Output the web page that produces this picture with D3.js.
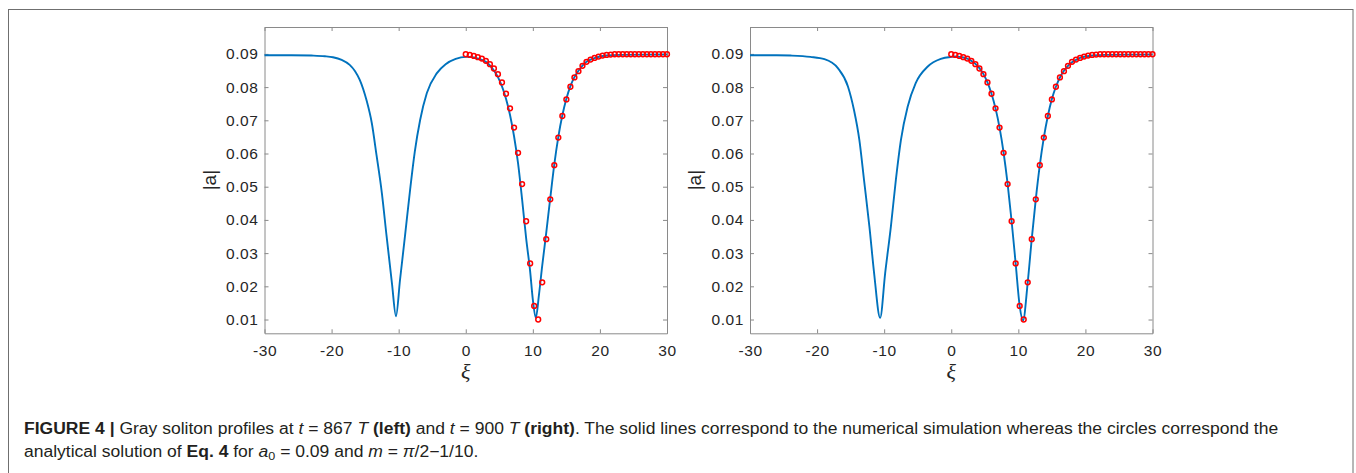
<!DOCTYPE html>
<html>
<head>
<meta charset="utf-8">
<script src="https://cdn.jsdelivr.net/npm/d3@7"></script>
<style>
  html, body { margin: 0; padding: 0; background: #fff; }
  svg { display: block; }
</style>
</head>
<body>
<svg id="fig" width="1356" height="473"></svg>
<script>
// ---- axis ticks ----
const xiTicks = [-30, -20, -10, 0, 10, 20, 30];
const aTicks = [0.01, 0.02, 0.03, 0.04, 0.05, 0.06, 0.07, 0.08, 0.09];

// ---- analytical solution (circles), sampled every 0.6 in xi ----
const analyticXi = d3.range(51).map(i => +(i * 0.6).toFixed(1));
const analyticA = [
  0.0899, 0.0897, 0.0894, 0.0890, 0.0886, 0.0879, 0.0869, 0.0856, 0.0839, 0.0814,
  0.0780, 0.0736, 0.0678, 0.0602, 0.0508, 0.0396, 0.0269, 0.0141, 0.0100, 0.0212,
  0.0342, 0.0462, 0.0565, 0.0648, 0.0713, 0.0763, 0.0801, 0.0829, 0.0848, 0.0864,
  0.0876, 0.0883, 0.0888, 0.0892, 0.0895, 0.0897, 0.0898, 0.0899, 0.0899, 0.0899,
  0.0899, 0.0899, 0.0899, 0.0899, 0.0899, 0.0899, 0.0899, 0.0899, 0.0899, 0.0899,
  0.0899
];

// ---- numerical simulation, t = 867 T ----
const numXi867 = [
  -30, -26, -23, -21, -19.8, -18.5, -17.3, -16.5, -15.8, -14.8, -14.0, -13.3, -12.5, -11.8, -11.0, -10.4,
  -9.8, -9.06, -8.3, -7.6, -6.8, -5.8, -4.3, -3.0, -1.5, 0, 0.8, 1.5, 2.4, 3.0, 3.6, 4.2, 4.8, 5.4,
  6.0, 6.6, 7.2, 7.8, 8.4, 9.0, 9.6, 10.0, 10.45, 10.9, 11.4, 12.0, 12.6, 13.2, 13.8, 14.4, 15.0,
  15.6, 16.2, 16.8, 17.4, 18.0, 19.0, 20.0, 21.0, 23.0, 30
];
const numA867 = [
  0.0896, 0.0896, 0.0895, 0.0893, 0.0890, 0.0882, 0.0867, 0.0848, 0.0822, 0.0761, 0.0691, 0.0595, 0.0480, 0.0351, 0.0209, 0.0110,
  0.0219, 0.0351, 0.0490, 0.0605, 0.0701, 0.0782, 0.0842, 0.0869, 0.0885, 0.0891, 0.0891, 0.0888, 0.0882, 0.0876, 0.0865, 0.0850, 0.0830, 0.0802,
  0.0765, 0.0716, 0.0652, 0.0570, 0.0462, 0.0345, 0.0245, 0.0160, 0.0105, 0.0172, 0.0262, 0.0362, 0.0466, 0.0567, 0.0650, 0.0715, 0.0765,
  0.0803, 0.0830, 0.0849, 0.0865, 0.0876, 0.0886, 0.0892, 0.0895, 0.0897, 0.0898
];

// ---- numerical simulation, t = 900 T ----
const numXi900 = [
  -30, -26, -23.9, -21, -18.9, -16.9, -15.4, -14.5, -13.7, -13.0, -12.2, -11.5, -10.6,
  -9.85, -9.0, -8.26, -7.5, -6.5, -5.3, -3.5, -1.56, 0, 0.6, 1.2, 1.8, 2.4, 3.0, 3.6, 4.2, 4.8, 5.4,
  6.0, 6.6, 7.2, 7.8, 8.4, 9.0, 9.6, 10.2, 10.7, 11.4, 12.0, 12.6, 13.2, 13.8, 14.4, 15.0,
  15.6, 16.2, 16.8, 17.4, 18.0, 18.6, 19.2, 20.0, 21.0, 23.0, 30
];
const numA900 = [
  0.0896, 0.0896, 0.0895, 0.0891, 0.0884, 0.0857, 0.0802, 0.0731, 0.0641, 0.0520, 0.0380, 0.0240, 0.0105,
  0.0240, 0.0380, 0.0520, 0.0641, 0.0741, 0.0812, 0.0862, 0.0885, 0.0891, 0.0892, 0.0891, 0.0889, 0.0886, 0.0879, 0.0870, 0.0857, 0.0839, 0.0814,
  0.0780, 0.0736, 0.0678, 0.0603, 0.0509, 0.0396, 0.0269, 0.0141, 0.0097, 0.0212, 0.0343, 0.0462, 0.0565, 0.0648, 0.0713, 0.0764,
  0.0801, 0.0829, 0.0849, 0.0864, 0.0875, 0.0882, 0.0888, 0.0892, 0.0895, 0.0897, 0.0898
];

// ---- layout ----
const svg = d3.select("#fig");
const TICK_FONT = "'Liberation Sans', Arial, Helvetica, sans-serif";
const axisGray = "#8a8a8a";
const textCol = "#262626";
const blue = "#0072BD";

// outer figure frame
svg.append("rect")
  .attr("x", 8.5).attr("y", 9.5)
  .attr("width", 1344.5).attr("height", 520)
  .attr("fill", "none").attr("stroke", "#6f6f6f").attr("stroke-width", 1);

const plotTop = 27, plotBottom = 333.3, plotW = 402.5;
const y = d3.scaleLinear().domain([0.00585, 0.0981]).range([plotBottom, plotTop]);

const panels = [
  { left: 264.5, xi: numXi867, a: numA867 },
  { left: 750,   xi: numXi900, a: numA900 }
];

panels.forEach(p => {
  const x = d3.scaleLinear().domain([-30, 30]).range([p.left, p.left + plotW]);
  const g = svg.append("g");

  // clip to plot box
  const cid = "clip" + Math.round(p.left);
  svg.append("clipPath").attr("id", cid).append("rect")
    .attr("x", p.left - 4).attr("y", plotTop - 4)
    .attr("width", plotW + 8).attr("height", plotBottom - plotTop + 8);

  // box axes with inward ticks
  const styleAxis = sel => {
    sel.select(".domain").attr("stroke", axisGray).attr("stroke-width", 1);
    sel.selectAll(".tick line").attr("stroke", axisGray).attr("stroke-width", 1);
    sel.selectAll(".tick text").attr("fill", textCol)
      .style("font-family", TICK_FONT).style("font-size", "15.5px")
      .style("letter-spacing", "0.6px");
  };

  g.append("g").attr("transform", `translate(0,${plotBottom})`)
    .call(d3.axisBottom(x).tickValues(xiTicks).tickSizeInner(-4).tickSizeOuter(0).tickPadding(11.5)
      .tickFormat(d => String(d)))
    .call(styleAxis);
  g.append("g").attr("transform", `translate(0,${plotTop})`)
    .call(d3.axisTop(x).tickValues(xiTicks).tickSizeInner(-4).tickSizeOuter(0).tickFormat(""))
    .call(styleAxis);
  g.append("g").attr("transform", `translate(${p.left},0)`)
    .call(d3.axisLeft(y).tickValues(aTicks).tickSizeInner(-4).tickSizeOuter(0).tickPadding(6)
      .tickFormat(d3.format(".2f")))
    .call(styleAxis);
  g.append("g").attr("transform", `translate(${p.left + plotW},0)`)
    .call(d3.axisRight(y).tickValues(aTicks).tickSizeInner(-4).tickSizeOuter(0).tickFormat(""))
    .call(styleAxis);

  // numerical profile
  const pts = p.xi.map((v, i) => [v, p.a[i]]);
  g.append("path")
    .datum(pts)
    .attr("clip-path", `url(#${cid})`)
    .attr("fill", "none")
    .attr("stroke", blue)
    .attr("stroke-width", 1.9)
    .attr("stroke-linejoin", "round")
    .attr("d", d3.line().x(d => x(d[0])).y(d => y(d[1])).curve(d3.curveMonotoneX));

  // analytical solution markers
  g.append("g").selectAll("circle")
    .data(analyticXi.map((v, i) => [v, analyticA[i]]))
    .join("circle")
    .attr("cx", d => x(d[0]))
    .attr("cy", d => y(d[1]))
    .attr("r", 2.4)
    .attr("fill", "none")
    .attr("stroke", "#ff0000")
    .attr("stroke-width", 1.5);

  // axis titles
  g.append("text")
    .attr("x", p.left + plotW / 2).attr("y", 379)
    .attr("text-anchor", "middle")
    .attr("fill", textCol)
    .style("font-family", "'Liberation Serif', 'Times New Roman', serif")
    .style("font-style", "italic")
    .style("font-size", "22px")
    .text("ξ");
  g.append("text")
    .attr("transform", `translate(${p.left - 49},${(plotTop + plotBottom) / 2}) rotate(-90)`)
    .attr("text-anchor", "middle")
    .attr("fill", textCol)
    .style("font-family", TICK_FONT)
    .style("font-size", "19px")
    .text("|a|");
});

// ---- caption ----
const CAP_FONT = "'Liberation Sans', Arial, Helvetica, sans-serif";
const capG = svg.append("g");
const line1 = [
  ["FIGURE 4", "b"], [" ", ""], ["|", "b"], [" Gray soliton profiles at ", ""], ["t", "i"], [" = 867 ", ""],
  ["T", "i"], [" ", ""], ["(left)", "b"], [" and ", ""], ["t", "i"], [" = 900 ", ""], ["T", "i"], [" ", ""],
  ["(right)", "b"],
  [". The solid lines correspond to the numerical simulation whereas the circles correspond the", ""]
];
const line2 = [
  ["analytical solution of ", ""], ["Eq. 4", "b"], [" for ", ""], ["a", "i"], ["0", "sub"],
  [" = 0.09 and ", "r"], ["m", "i"], [" = ", ""], ["π", "i"], ["/2\u22121/10.", ""]
];

function writeLine(parts, baseline) {
  const t = capG.append("text")
    .attr("x", 0).attr("y", baseline)
    .attr("fill", "#231f20")
    .style("font-family", CAP_FONT)
    .style("font-size", "16px");
  parts.forEach(([s, k]) => {
    const ts = t.append("tspan").text(s);
    if (k === "b") ts.style("font-weight", "bold");
    if (k === "i") ts.style("font-style", "italic");
    if (k === "sub") ts.attr("dy", 3).style("font-size", "11.5px");
    if (k === "r") ts.attr("dy", -3);
  });
  return t;
}
const t1 = writeLine(line1, 434);
writeLine(line2, 457);
const w1 = t1.node().getComputedTextLength();
const sx = (1279 - 24) / w1;
capG.attr("transform", `translate(24,0) scale(${sx},1)`);
</script>
</body>
</html>
